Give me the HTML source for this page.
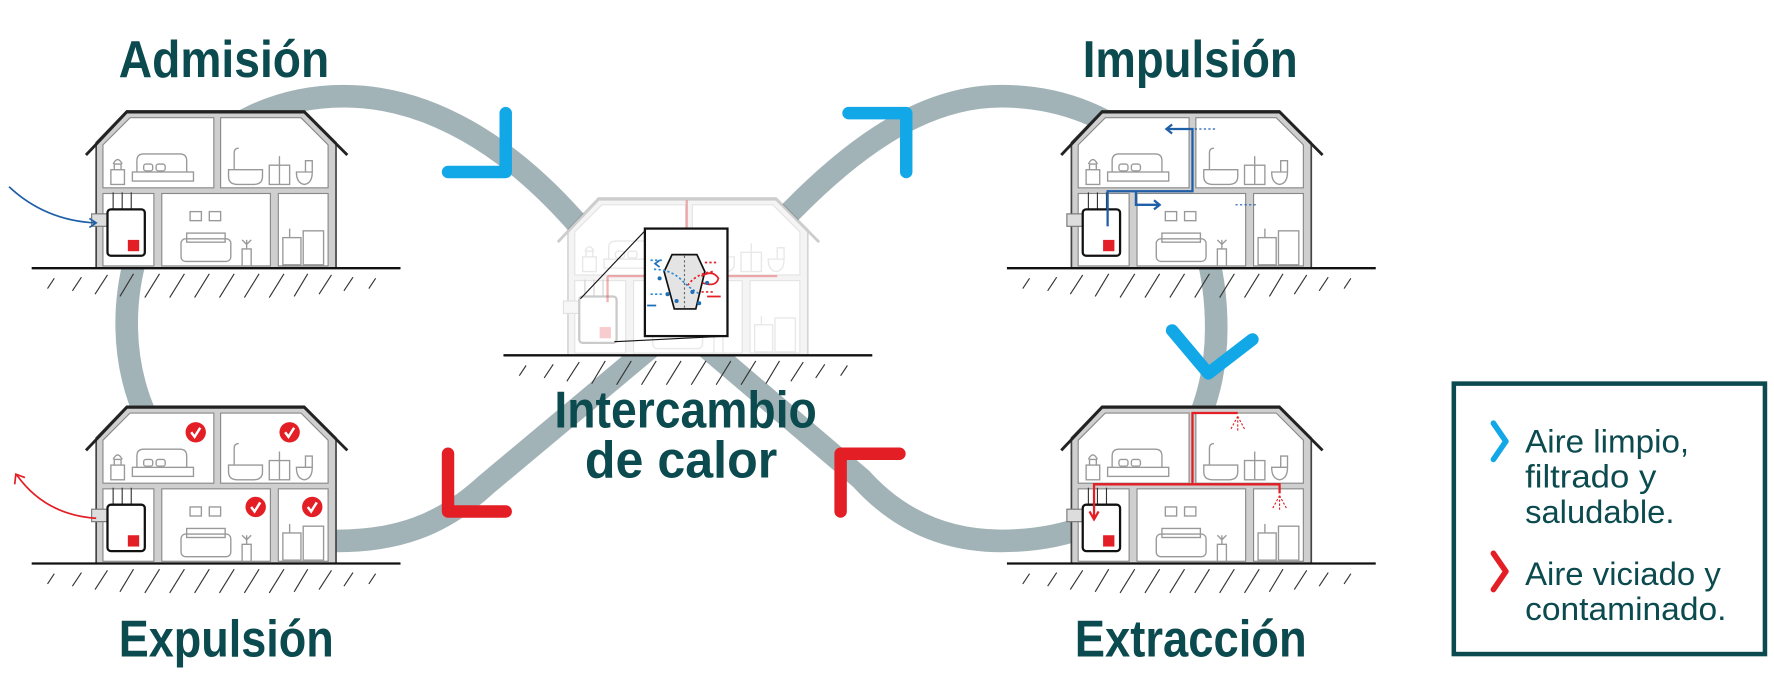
<!DOCTYPE html>
<html><head><meta charset="utf-8"><style>
html,body{margin:0;padding:0;background:#fff;}
svg{display:block;}
.t{font-family:"Liberation Sans",Arial,sans-serif;font-weight:bold;fill:#0b4a4e;}
.l{font-family:"Liberation Sans",Arial,sans-serif;fill:#0b4a4e;}
</style></head><body>
<svg width="1774" height="688" viewBox="0 0 1568 608" preserveAspectRatio="none" xmlns="http://www.w3.org/2000/svg">
<defs>
<g id="hatch" stroke="#333" stroke-width="1">
<line x1="42" y1="255" x2="48" y2="246"/><line x1="64" y1="257" x2="72" y2="245"/>
<line x1="84" y1="260" x2="95" y2="243"/><line x1="106" y1="262" x2="118" y2="242"/>
<line x1="128" y1="263" x2="141" y2="242"/><line x1="150" y1="263" x2="163" y2="242"/>
<line x1="172" y1="263" x2="185" y2="242"/><line x1="194" y1="263" x2="207" y2="242"/>
<line x1="216" y1="263" x2="229" y2="242"/><line x1="238" y1="263" x2="251" y2="242"/>
<line x1="260" y1="262" x2="272" y2="242"/><line x1="282" y1="260" x2="293" y2="243"/>
<line x1="304" y1="257" x2="312" y2="245"/><line x1="326" y1="255" x2="332" y2="246"/>
</g>
<g id="housebody">
<path d="M85,237 L85,126 L112,98 L269,98 L297,126 L297,237 Z" fill="#cfcfcf" stroke="#444" stroke-width="1.5"/>
<polyline points="76,137 112,99 269,99 307,137" fill="none" stroke="#222" stroke-width="2.5"/>
<g fill="#fff" stroke="#888" stroke-width="1">
<polygon points="91,128 115,104 189,104 189,166 91,166"/>
<polygon points="195,104 266,104 290,128 290,166 195,166"/>
<rect x="91" y="171" width="45" height="64"/>
<rect x="143" y="171" width="96" height="64"/>
<rect x="246" y="171" width="44" height="64"/>
</g>
<g fill="none" stroke="#999" stroke-width="1.2">
<rect x="98" y="150" width="12" height="13"/><path d="M101,150 v-5 h6 v5 M100,145 q4,-8 8,0"/>
<rect x="117" y="152" width="54" height="8"/><path d="M121,152 v-10 q0,-6 6,-6 h32 q6,0 6,6 v10"/>
<rect x="127" y="145" width="8" height="6" rx="2"/><rect x="138" y="145" width="8" height="6" rx="2"/>
<path d="M202,150 h30 v6 q0,7 -8,7 h-14 q-8,0 -8,-7 z M207,150 v-15 q0,-4 4,-4"/>
<rect x="238" y="146" width="18" height="17"/><line x1="247" y1="146" x2="247" y2="163"/><path d="M247,146 v-8"/>
<path d="M262,152 h14 q0,10 -7,11 q-7,-1 -7,-11 z M270,152 v-10 h6 v10"/>
<rect x="160" y="211" width="44" height="20" rx="4"/><rect x="165" y="206" width="34" height="8"/>
<rect x="168" y="187" width="10" height="8"/><rect x="185" y="187" width="10" height="8"/>
<path d="M214,235 v-15 h8 v15 M218,220 v-8 M214,212 l4,4 l4,-4"/>
<rect x="250" y="210" width="16" height="24"/><rect x="268" y="204" width="18" height="30"/><path d="M256,210 v-8"/>
</g>
<g>
<rect x="81" y="189" width="14" height="11" fill="#ddd" stroke="#777" stroke-width="1"/>
<line x1="100" y1="170" x2="100" y2="185" stroke="#333"/><line x1="108" y1="170" x2="108" y2="185" stroke="#333"/><line x1="116" y1="170" x2="116" y2="185" stroke="#333"/>
<rect x="95" y="185" width="33" height="41" rx="3" fill="#fff" stroke="#111" stroke-width="2"/>
<rect x="113" y="212" width="10" height="10" fill="#e31e24"/>
</g>
</g>
<g id="ground">
<line x1="28" y1="237" x2="354" y2="237" stroke="#111" stroke-width="2"/>
<use href="#hatch"/>
</g>
<g id="house"><use href="#housebody"/><use href="#ground"/></g>
<g id="chk"><circle r="9" fill="#e31e24"/><path d="M-4,0 l3,4 l5,-8" fill="none" stroke="#fff" stroke-width="2.2"/></g>
</defs>

<path d="M600,286 L700,186 C760,125 820,85 885,85 C990,85 1075,160 1075,290 C1075,400 1000,478 885,478 C830,478 790,455 761,423 L600,286 L507,194 C450,130 380,85 304,85 C190,85 110,180 112,290 C114,400 200,478 298,478 C350,478 390,465 430,428 Z" fill="none" stroke="#a2b3b7" stroke-width="20"/>

<use href="#house"/>
<use href="#house" transform="translate(0,261)"/>
<use href="#house" transform="translate(862,0)"/>
<use href="#house" transform="translate(862,261)"/>

<g transform="translate(417,77)">
<path d="M85,237 L85,126 L112,98 L269,98 L297,126 L297,237 Z" fill="#fff"/>
<g opacity="0.22"><use href="#housebody"/></g>
<path d="M190,100 V167 H270 M120,167 H190 M120,167 V190" fill="none" stroke="#e31e24" stroke-opacity="0.35" stroke-width="2"/>
<use href="#ground"/>
</g>
<line x1="513" y1="264" x2="570" y2="204" stroke="#111" stroke-width="1"/>
<line x1="543" y1="302" x2="643" y2="297" stroke="#111" stroke-width="1"/>
<rect x="570" y="202" width="73" height="95" fill="#fff" stroke="#111" stroke-width="2"/>
<polygon points="594,225 616,225 623,240 615,273 596,273 587,240" fill="#e4e4e4" stroke="#111" stroke-width="1.5"/>
<line x1="605" y1="226" x2="605" y2="272" stroke="#666" stroke-dasharray="2,2"/>
<g fill="none" stroke-width="1.5">
<path d="M575,230 h12 M578,238 q15,0 25,10 q8,8 16,12 M575,260 h12" stroke="#2a8ad4" stroke-dasharray="2,2"/>
<path d="M633,232 h-12 M630,240 q-15,2 -22,12 M630,258 h-12" stroke="#e31e24" stroke-dasharray="2,2"/>
<path d="M620,244 q10,-6 15,2 q-2,8 -14,4 M625,262 h12" stroke="#e31e24"/>
<path d="M580,270 h-8 M583,236 l-4,-3 l4,-3" stroke="#1f6fb5"/>
</g>
<g fill="#1f6fb5"><circle cx="583" cy="246" r="1.8"/><circle cx="590" cy="260" r="1.8"/><circle cx="598" cy="266" r="1.8"/><circle cx="612" cy="258" r="1.8"/><circle cx="618" cy="268" r="1.8"/><circle cx="625" cy="250" r="1.8"/></g>

<path d="M8,165 Q40,195 85,197" fill="none" stroke="#1f5fa8" stroke-width="1.5"/>
<path d="M79,193 l6,4 l-6,4" fill="none" stroke="#1f5fa8" stroke-width="1.5"/>
<path d="M85,458 Q40,455 15,420" fill="none" stroke="#e31e24" stroke-width="1.5"/>
<path d="M13,428 l1,-9 l8,3" fill="none" stroke="#e31e24" stroke-width="1.5"/>

<use href="#chk" x="173" y="382"/><use href="#chk" x="256" y="382"/>
<use href="#chk" x="226" y="448"/><use href="#chk" x="276" y="448"/>

<g fill="none" stroke="#1f5fa8" stroke-width="2">
<path d="M979,200 V169 H1054 V114 H1032"/><path d="M1036,110 l-5,4 l5,4"/>
<path d="M1004,169 V181 H1024"/><path d="M1020,177 l5,4 l-5,4"/>
</g>
<g fill="none" stroke="#1f5fa8" stroke-width="1" stroke-dasharray="2,2">
<path d="M1056,114 H1076 M1092,181 H1112"/>
</g>
<g fill="none" stroke="#e31e24" stroke-width="2">
<path d="M1094,365 H1054 V428 H967 V458 M1054,428 H1131 V436"/>
<path d="M963,452 l4,7 l4,-7"/>
</g>
<g stroke="#e31e24" stroke-width="1" stroke-dasharray="2,1.5">
<path d="M1094,368 v14 M1094,368 l-6,11 M1094,368 l6,11 M1131,438 v14 M1131,438 l-6,11 M1131,438 l6,11"/>
</g>

<g fill="none" stroke-linecap="round" stroke-linejoin="round" stroke-width="11">
<path d="M447,100 V152 H396" stroke="#12a8e8"/>
<path d="M750,100 H801 V152" stroke="#12a8e8"/>
<path d="M1036,292 L1068,330 L1107,300" stroke="#12a8e8"/>
<path d="M396,401 V452 H447" stroke="#e31e24"/>
<path d="M743,452 V401 H795" stroke="#e31e24"/>
</g>

<text class="t" x="105" y="68" font-size="46" textLength="186" lengthAdjust="spacingAndGlyphs">Admisión</text>
<text class="t" x="957" y="68" font-size="46" textLength="190" lengthAdjust="spacingAndGlyphs">Impulsión</text>
<text class="t" x="105" y="580" font-size="46" textLength="190" lengthAdjust="spacingAndGlyphs">Expulsión</text>
<text class="t" x="950" y="580" font-size="46" textLength="205" lengthAdjust="spacingAndGlyphs">Extracción</text>
<text class="t" x="490" y="378" font-size="46" textLength="232" lengthAdjust="spacingAndGlyphs">Intercambio</text>
<text class="t" x="517" y="422" font-size="46" textLength="170" lengthAdjust="spacingAndGlyphs">de calor</text>

<rect x="1285" y="339" width="275" height="239" fill="#fff" stroke="#0b4a4e" stroke-width="4"/>
<g fill="none" stroke-linecap="round" stroke-linejoin="round" stroke-width="5">
<path d="M1320,374 L1331,390 L1320,406" stroke="#12a8e8"/>
<path d="M1320,489 L1331,505 L1320,521" stroke="#e31e24"/>
</g>
<g class="l" font-size="29">
<text x="1348" y="400" textLength="145" lengthAdjust="spacingAndGlyphs">Aire limpio,</text>
<text x="1348" y="431" textLength="116" lengthAdjust="spacingAndGlyphs">filtrado y</text>
<text x="1348" y="462" textLength="132" lengthAdjust="spacingAndGlyphs">saludable.</text>
<text x="1348" y="517" textLength="173" lengthAdjust="spacingAndGlyphs">Aire viciado y</text>
<text x="1348" y="548" textLength="178" lengthAdjust="spacingAndGlyphs">contaminado.</text>
</g>
</svg>
</body></html>
